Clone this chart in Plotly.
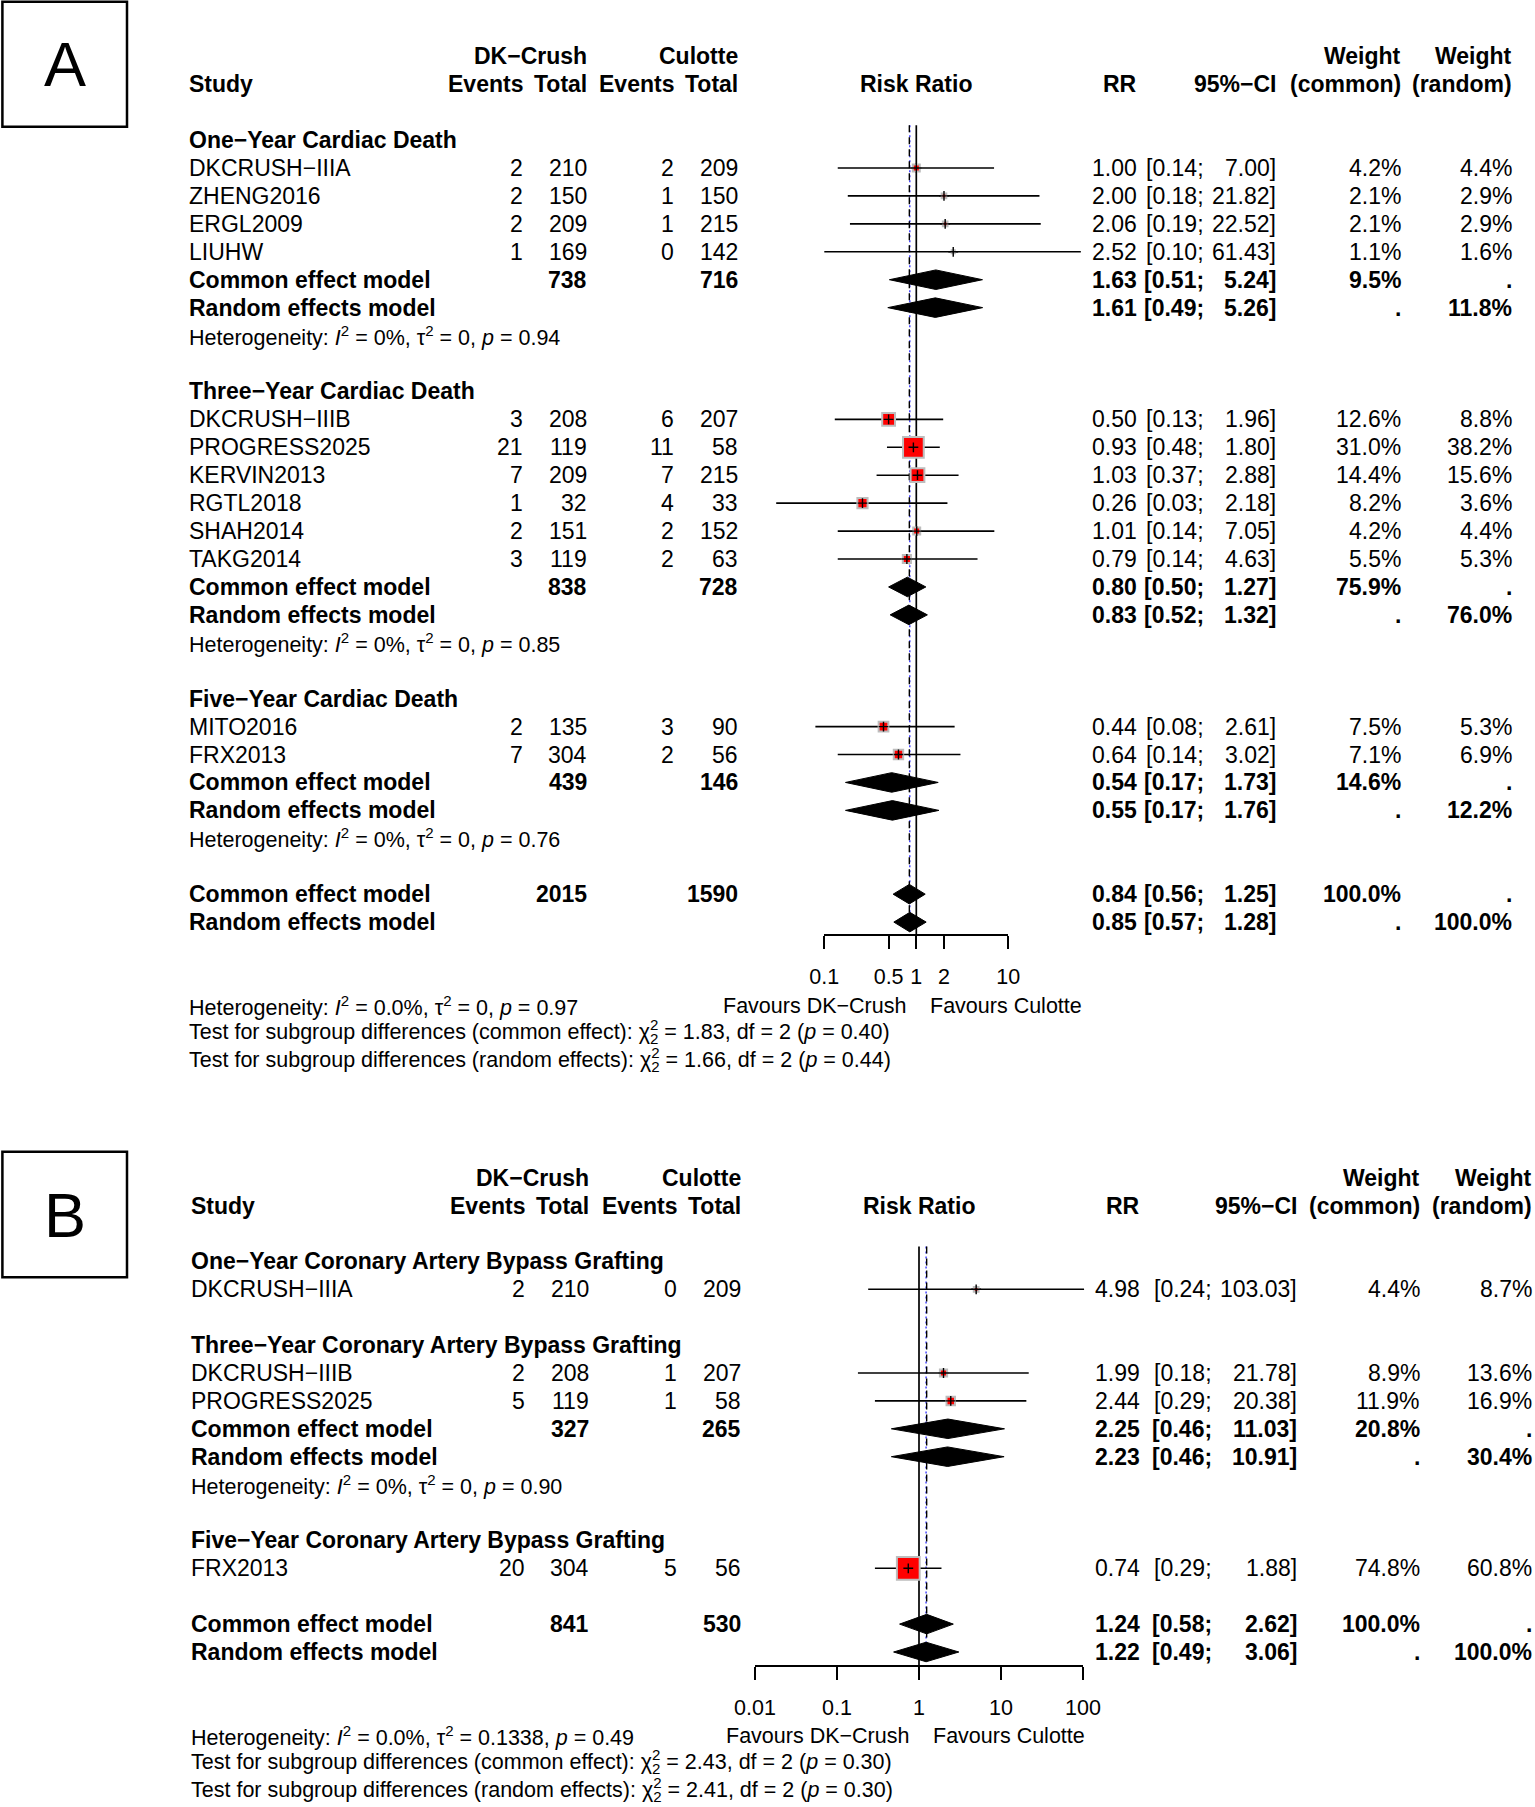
import math
import plotly.graph_objects as go

W, H = 1535, 1807
FONT = "Liberation Sans"
FS = 23
FS2 = 21.5

# ---------------- Panel A: cardiac death ----------------
A_groups = ["One−Year Cardiac Death", "Three−Year Cardiac Death", "Five−Year Cardiac Death"]
A_study_group = [0, 0, 0, 0, 1, 1, 1, 1, 1, 1, 2, 2]
A_studies = ["DKCRUSH−IIIA", "ZHENG2016", "ERGL2009", "LIUHW",
             "DKCRUSH−IIIB", "PROGRESS2025", "KERVIN2013", "RGTL2018", "SHAH2014", "TAKG2014",
             "MITO2016", "FRX2013"]
A_ev_dk = [2, 2, 2, 1, 3, 21, 7, 1, 2, 3, 2, 7]
A_n_dk = [210, 150, 209, 169, 208, 119, 209, 32, 151, 119, 135, 304]
A_ev_cu = [2, 1, 1, 0, 6, 11, 7, 4, 2, 2, 3, 2]
A_n_cu = [209, 150, 215, 142, 207, 58, 215, 33, 152, 63, 90, 56]
A_rr = [1.00, 2.00, 2.06, 2.52, 0.50, 0.93, 1.03, 0.26, 1.01, 0.79, 0.44, 0.64]
A_lo = [0.14, 0.18, 0.19, 0.10, 0.13, 0.48, 0.37, 0.03, 0.14, 0.14, 0.08, 0.14]
A_hi = [7.00, 21.82, 22.52, 61.43, 1.96, 1.80, 2.88, 2.18, 7.05, 4.63, 2.61, 3.02]
A_w_com = [4.2, 2.1, 2.1, 1.1, 12.6, 31.0, 14.4, 8.2, 4.2, 5.5, 7.5, 7.1]
A_w_ran = [4.4, 2.9, 2.9, 1.6, 8.8, 38.2, 15.6, 3.6, 4.4, 5.3, 5.3, 6.9]
A_sub_n_dk = [738, 838, 439]
A_sub_n_cu = [716, 728, 146]
A_sub_com_rr = [1.63, 0.80, 0.54]
A_sub_com_lo = [0.51, 0.50, 0.17]
A_sub_com_hi = [5.24, 1.27, 1.73]
A_sub_com_w = [9.5, 75.9, 14.6]
A_sub_ran_rr = [1.61, 0.83, 0.55]
A_sub_ran_lo = [0.49, 0.52, 0.17]
A_sub_ran_hi = [5.26, 1.32, 1.76]
A_sub_ran_w = [11.8, 76.0, 12.2]
A_sub_I2 = ["0%", "0%", "0%"]
A_sub_tau2 = ["0", "0", "0"]
A_sub_p = ["0.94", "0.85", "0.76"]
A_all_n = [2015, 1590]
A_all_com = [0.84, 0.56, 1.25, 100.0]
A_all_ran = [0.85, 0.57, 1.28, 100.0]
A_all_het = ["0.0%", "0", "0.97"]
A_test_com = ["1.83", "2", "0.40"]
A_test_ran = ["1.66", "2", "0.44"]
A_ticks = [0.1, 0.5, 1, 2, 10]
A_ticktext = ["0.1", "0.5", "1", "2", "10"]

# ---------------- Panel B: CABG ----------------
B_groups = ["One−Year Coronary Artery Bypass Grafting", "Three−Year Coronary Artery Bypass Grafting",
            "Five−Year Coronary Artery Bypass Grafting"]
B_study_group = [0, 1, 1, 2]
B_studies = ["DKCRUSH−IIIA", "DKCRUSH−IIIB", "PROGRESS2025", "FRX2013"]
B_ev_dk = [2, 2, 5, 20]
B_n_dk = [210, 208, 119, 304]
B_ev_cu = [0, 1, 1, 5]
B_n_cu = [209, 207, 58, 56]
B_rr = [4.98, 1.99, 2.44, 0.74]
B_lo = [0.24, 0.18, 0.29, 0.29]
B_hi = [103.03, 21.78, 20.38, 1.88]
B_w_com = [4.4, 8.9, 11.9, 74.8]
B_w_ran = [8.7, 13.6, 16.9, 60.8]
B_sub_n_dk = [None, 327, None]
B_sub_n_cu = [None, 265, None]
B_sub_com_rr = [None, 2.25, None]
B_sub_com_lo = [None, 0.46, None]
B_sub_com_hi = [None, 11.03, None]
B_sub_com_w = [None, 20.8, None]
B_sub_ran_rr = [None, 2.23, None]
B_sub_ran_lo = [None, 0.46, None]
B_sub_ran_hi = [None, 10.91, None]
B_sub_ran_w = [None, 30.4, None]
B_sub_I2 = [None, "0%", None]
B_sub_tau2 = [None, "0", None]
B_sub_p = [None, "0.90", None]
B_all_n = [841, 530]
B_all_com = [1.24, 0.58, 2.62, 100.0]
B_all_ran = [1.22, 0.49, 3.06, 100.0]
B_all_het = ["0.0%", "0.1338", "0.49"]
B_test_com = ["2.43", "2", "0.30"]
B_test_ran = ["2.41", "2", "0.30"]
B_ticks = [0.01, 0.1, 1, 10, 100]
B_ticktext = ["0.01", "0.1", "1", "10", "100"]

HEAD1 = ["DK−Crush", "Culotte", "Weight", "Weight"]
HEAD2 = ["Study", "Events", "Total", "Events", "Total", "Risk Ratio", "RR", "95%−CI", "(common)", "(random)"]
LAB_LEFT = "Favours DK−Crush"
LAB_RIGHT = "Favours Culotte"


def pack(p):
    g = globals()
    keys = ["groups", "study_group", "studies", "ev_dk", "n_dk", "ev_cu", "n_cu", "rr", "lo", "hi",
            "w_com", "w_ran", "sub_n_dk", "sub_n_cu", "sub_com_rr", "sub_com_lo", "sub_com_hi", "sub_com_w",
            "sub_ran_rr", "sub_ran_lo", "sub_ran_hi", "sub_ran_w", "sub_I2", "sub_tau2", "sub_p",
            "all_n", "all_com", "all_ran", "all_het", "test_com", "test_ran", "ticks", "ticktext"]
    return {k: g[p + "_" + k] for k in keys}


# layout parameters (pixels)
CFG_A = dict(letter="A", study=188, ev1=523.5, tot1=587.5, ev2=675.2, tot2=739.2, rr=1138, ci=1277,
             semi=1205, wc=1402, wr=1513, null=916.3, ppd=92, row0=84.2, rowh=27.93,
             ytop=0, ybot=1080, axis=935, sqk=3.9, box=(2.4, 1.7, 127, 126.7),
             xd="x", xt="x3", ya="y")
CFG_B = dict(letter="B", study=190, ev1=525.5, tot1=589.5, ev2=677.5, tot2=741.5, rr=1140.5, ci=1297.5,
             semi=1213, wc=1421, wr=1532.5, null=919, ppd=82, row0=1205.6, rowh=27.9,
             ytop=1135, ybot=1807, axis=1666, sqk=2.75, box=(2.4, 1151.7, 127, 1277.3),
             xd="x2", xt="x4", ya="y2")

fig = go.Figure()
ann = []
shapes = []


def txt(xpx, row, s, yref, anchor="left", bold=False, size=FS):
    if bold:
        s = "<b>" + s + "</b>"
    ann.append(dict(x=xpx / W, xref="paper", y=row, yref=yref, text=s, showarrow=False,
                    xanchor=anchor, yanchor="middle", borderpad=0,
                    font=dict(family=FONT, size=size, color="black")))


def het(I2, tau2, p):
    return f"Heterogeneity: <i>I</i><sup>2</sup> = {I2}, τ<sup>2</sup> = {tau2}, <i>p</i> = {p}"


def test_line(kind, chi, df, p):
    back = round(FS2 * 0.7 * 0.556, 1)
    return (f"Test for subgroup differences ({kind}): χ<sup><span style=\"letter-spacing:-{back}px\">2</span></sup>"
            f"<sub>{df}</sub> = {chi}, df = {df} (<i>p</i> = {p})")


def draw_panel(d, c):
    ya = c["ya"]
    items = []
    r = 2
    for g in range(len(d["groups"])):
        items.append(("group", r, g)); r += 1
        for i, sg in enumerate(d["study_group"]):
            if sg == g:
                items.append(("study", r, i)); r += 1
        if d["sub_com_rr"][g] is not None:
            items.append(("sub_com", r, g)); r += 1
            items.append(("sub_ran", r, g)); r += 1
            items.append(("sub_het", r, g)); r += 1
        r += 1
    items.append(("all_com", r, None))
    items.append(("all_ran", r + 1, None))
    R = r + 1
    axis_row = (c["axis"] - c["row0"]) / c["rowh"]
    top_row = 1.47

    # headers
    for x, s in zip([c["tot1"], c["tot2"], c["wc"], c["wr"]], HEAD1):
        txt(x, -1, s, ya, "right", True)
    xs = [c["study"], c["ev1"], c["tot1"], c["ev2"], c["tot2"], c["null"], c["rr"], c["ci"], c["wc"], c["wr"]]
    anc = ["left", "right", "right", "right", "right", "center", "right", "right", "right", "right"]
    for x, s, a in zip(xs, HEAD2, anc):
        txt(x, 0, s, ya, a, True)

    ci_x, ci_y, sq_x, sq_y, sq_s = [], [], [], [], []
    dx, dy = [], []

    def diamond(row, est, lo, hi):
        dx.extend([lo, est, hi, est, lo, None])
        dy.extend([row, row - 0.35, row, row + 0.35, row, None])

    def est_text(row, est, lo, hi, bold):
        txt(c["rr"], row, f"{est:.2f}", ya, "right", bold)
        txt(c["semi"], row, f"[{lo:.2f};", ya, "right", bold)
        txt(c["ci"], row, f"{hi:.2f}]", ya, "right", bold)

    for kind, row, k in items:
        if kind == "group":
            txt(c["study"], row, d["groups"][k], ya, "left", True)
        elif kind == "study":
            txt(c["study"], row, d["studies"][k], ya)
            txt(c["ev1"], row, str(d["ev_dk"][k]), ya, "right")
            txt(c["tot1"], row, str(d["n_dk"][k]), ya, "right")
            txt(c["ev2"], row, str(d["ev_cu"][k]), ya, "right")
            txt(c["tot2"], row, str(d["n_cu"][k]), ya, "right")
            est_text(row, d["rr"][k], d["lo"][k], d["hi"][k], False)
            txt(c["wc"], row, f"{d['w_com'][k]:.1f}%", ya, "right")
            txt(c["wr"], row, f"{d['w_ran'][k]:.1f}%", ya, "right")
            ci_x.extend([d["lo"][k], d["hi"][k], None])
            ci_y.extend([row, row, None])
            sq_x.append(d["rr"][k]); sq_y.append(row)
            sq_s.append(max(c["sqk"] * math.sqrt(d["w_com"][k]) - 1.0, 2.0))
        elif kind == "sub_com":
            txt(c["study"], row, "Common effect model", ya, "left", True)
            txt(c["tot1"], row, str(d["sub_n_dk"][k]), ya, "right", True)
            txt(c["tot2"], row, str(d["sub_n_cu"][k]), ya, "right", True)
            est_text(row, d["sub_com_rr"][k], d["sub_com_lo"][k], d["sub_com_hi"][k], True)
            txt(c["wc"], row, f"{d['sub_com_w'][k]:.1f}%", ya, "right", True)
            txt(c["wr"], row, ".", ya, "right", True)
            diamond(row, d["sub_com_rr"][k], d["sub_com_lo"][k], d["sub_com_hi"][k])
        elif kind == "sub_ran":
            txt(c["study"], row, "Random effects model", ya, "left", True)
            est_text(row, d["sub_ran_rr"][k], d["sub_ran_lo"][k], d["sub_ran_hi"][k], True)
            txt(c["wc"], row, ".", ya, "right", True)
            txt(c["wr"], row, f"{d['sub_ran_w'][k]:.1f}%", ya, "right", True)
            diamond(row, d["sub_ran_rr"][k], d["sub_ran_lo"][k], d["sub_ran_hi"][k])
        elif kind == "sub_het":
            txt(c["study"], row, het(d["sub_I2"][k], d["sub_tau2"][k], d["sub_p"][k]), ya, "left", False, FS2)
        elif kind == "all_com":
            e, lo, hi, w = d["all_com"]
            txt(c["study"], row, "Common effect model", ya, "left", True)
            txt(c["tot1"], row, str(d["all_n"][0]), ya, "right", True)
            txt(c["tot2"], row, str(d["all_n"][1]), ya, "right", True)
            est_text(row, e, lo, hi, True)
            txt(c["wc"], row, f"{w:.1f}%", ya, "right", True)
            txt(c["wr"], row, ".", ya, "right", True)
            diamond(row, e, lo, hi)
        elif kind == "all_ran":
            e, lo, hi, w = d["all_ran"]
            txt(c["study"], row, "Random effects model", ya, "left", True)
            est_text(row, e, lo, hi, True)
            txt(c["wc"], row, ".", ya, "right", True)
            txt(c["wr"], row, f"{w:.1f}%", ya, "right", True)
            diamond(row, e, lo, hi)

    # bottom text
    I2, tau2, p = d["all_het"]
    txt(c["study"], R + 3, het(I2, tau2, p), ya, "left", False, FS2)
    txt(c["null"] - 9.5, R + 3, LAB_LEFT, ya, "right", False, FS2)
    txt(c["null"] + 12.5, R + 3, LAB_RIGHT, ya, "left", False, FS2)
    chi, df, pp = d["test_com"]
    txt(c["study"], R + 4, test_line("common effect", chi, df, pp), ya, "left", False, FS2)
    chi, df, pp = d["test_ran"]
    txt(c["study"], R + 5, test_line("random effects", chi, df, pp), ya, "left", False, FS2)

    xd, xt = c["xd"], c["xt"]
    common = dict(xaxis=xd, yaxis=ya, showlegend=False, hoverinfo="skip")
    fig.add_trace(go.Scatter(x=[1, 1], y=[top_row, axis_row], mode="lines",
                             line=dict(color="black", width=1.7), **common))
    fig.add_trace(go.Scatter(x=[d["all_ran"][0]] * 2, y=[top_row, R], mode="lines",
                             line=dict(color="#3a3aff", width=1.4, dash="2px,3px"), **common))
    fig.add_trace(go.Scatter(x=[d["all_com"][0]] * 2, y=[top_row, R], mode="lines",
                             line=dict(color="black", width=1.4, dash="7px,5px"), **common))
    fig.add_trace(go.Scatter(x=ci_x, y=ci_y, mode="lines", line=dict(color="black", width=1.6), **common))
    fig.add_trace(go.Scatter(x=sq_x, y=sq_y, mode="markers",
                             marker=dict(symbol="square", size=sq_s, color="#ff0000", opacity=1,
                                         line=dict(color="#bdbdbd", width=2)), **common))
    fig.add_trace(go.Scatter(x=sq_x, y=sq_y, mode="markers",
                             marker=dict(symbol="cross-thin", size=7, line=dict(color="black", width=1.4)), **common))
    fig.add_trace(go.Scatter(x=dx, y=dy, mode="lines", fill="toself", fillcolor="black",
                             line=dict(color="black", width=1), **common))
    # tick axis carrier
    fig.add_trace(go.Scatter(x=d["ticks"], y=[axis_row] * len(d["ticks"]), mode="markers",
                             marker=dict(opacity=0, size=1), xaxis=xt, yaxis=ya,
                             showlegend=False, hoverinfo="skip"))

    # axes
    ppd, nul = c["ppd"], c["null"]
    tlo, thi = math.log10(min(d["ticks"])), math.log10(max(d["ticks"]))
    ylo = (c["ybot"] - c["row0"]) / c["rowh"]
    yhi = (c["ytop"] - c["row0"]) / c["rowh"]
    xdkey = "xaxis" if xd == "x" else "xaxis" + xd[1:]
    xtkey = "xaxis" + xt[1:]
    yakey = "yaxis" if ya == "y" else "yaxis" + ya[1:]
    hidden = dict(showgrid=False, zeroline=False, showline=False, showticklabels=False, ticks="",
                  fixedrange=True, automargin=False)
    fig.layout[xdkey] = dict(type="log", range=[-2.5, 2.5],
                             domain=[(nul - 2.5 * ppd) / W, (nul + 2.5 * ppd) / W], anchor=ya, **hidden)
    fig.layout[yakey] = dict(range=[ylo, yhi], domain=[1 - c["ybot"] / H, 1 - c["ytop"] / H],
                             anchor=xd, **hidden)
    fig.layout[xtkey] = dict(type="log", range=[tlo, thi],
                             domain=[(nul + tlo * ppd) / W, (nul + thi * ppd) / W],
                             anchor="free", position=1 - c["axis"] / H, automargin=False,
                             showgrid=False, zeroline=False, showline=True, linecolor="black", linewidth=1.6,
                             ticks="outside", ticklen=13, tickwidth=1.6, tickcolor="black",
                             tickmode="array", tickvals=d["ticks"], ticktext=d["ticktext"],
                             tickfont=dict(family=FONT, size=FS2, color="black"),
                             ticklabelstandoff=9, fixedrange=True)

    # panel letter box
    x0, y0, x1, y1 = c["box"]
    shapes.append(dict(type="rect", xref="paper", yref="paper", x0=x0 / W, x1=x1 / W,
                       y0=1 - y1 / H, y1=1 - y0 / H, line=dict(color="black", width=2.5)))
    ann.append(dict(x=(x0 + x1) / 2 / W, y=1 - (y0 + y1) / 2 / H, xref="paper", yref="paper",
                    text=c["letter"], showarrow=False, xanchor="center", yanchor="middle",
                    font=dict(family=FONT, size=63, color="black")))


draw_panel(pack("A"), CFG_A)
draw_panel(pack("B"), CFG_B)

fig.update_layout(width=W, height=H, margin=dict(l=0, r=0, t=0, b=0, pad=0, autoexpand=False),
                  autosize=False,
                  paper_bgcolor="white", plot_bgcolor="rgba(0,0,0,0)",
                  annotations=ann, shapes=shapes, showlegend=False, hovermode=False,
                  font=dict(family=FONT, size=FS, color="black"))
fig.write_html("out.html", config={"displayModeBar": False},
               post_script="document.body.style.margin='0';document.body.style.padding='0';"
                           "document.documentElement.style.overflow='hidden';")
